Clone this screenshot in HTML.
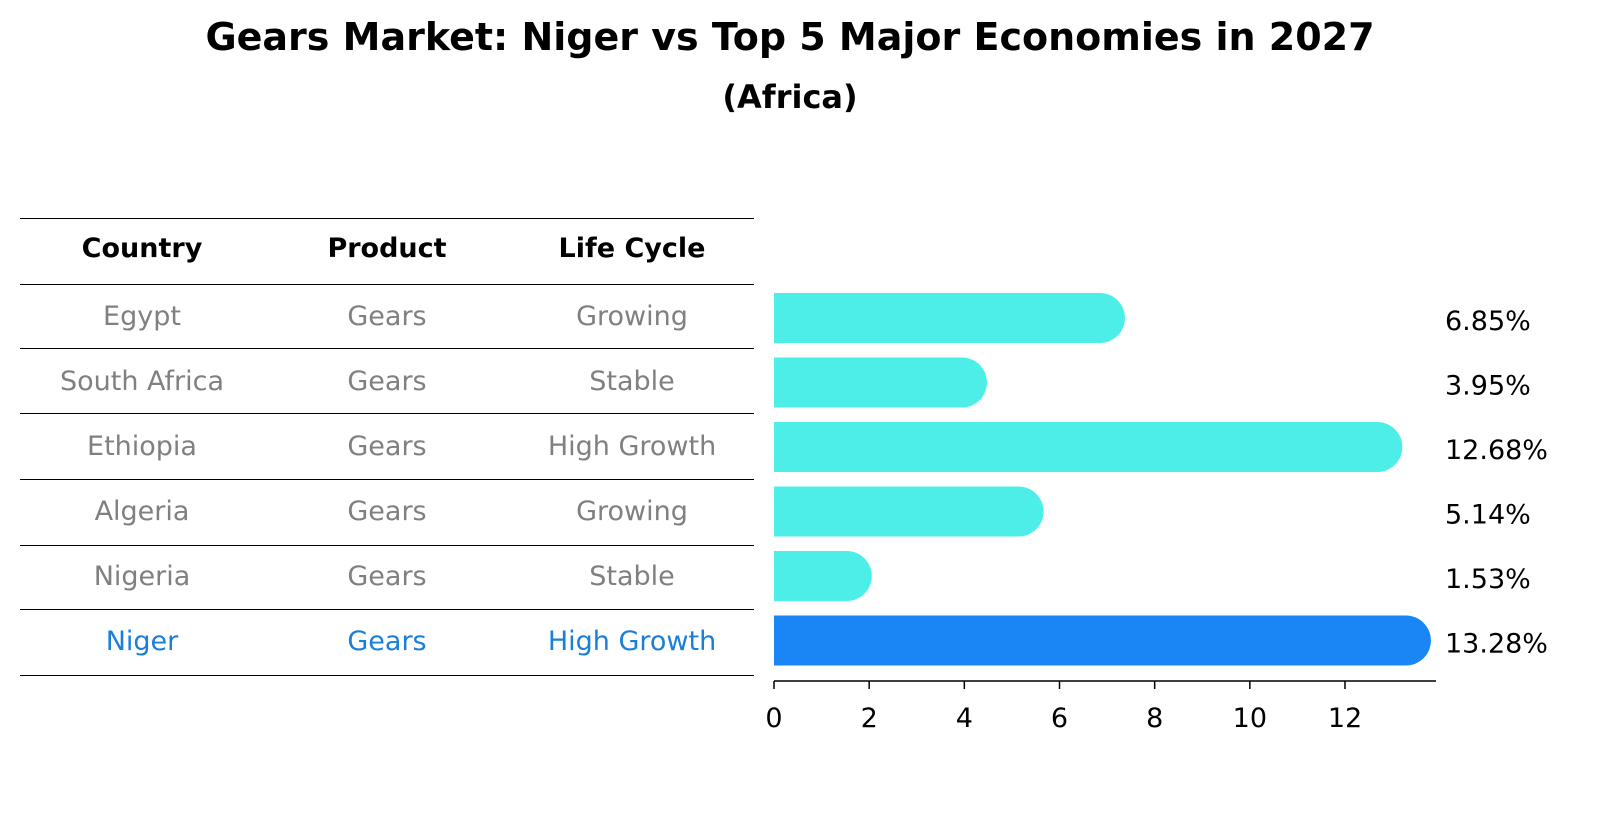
<!DOCTYPE html>
<html><head><meta charset="utf-8"><style>
body{margin:0;background:#fff;width:1604px;height:823px;overflow:hidden}
svg text{font-family:"DejaVu Sans","Liberation Sans",sans-serif}
</style></head><body>
<svg id="chart" width="1604" height="823" xmlns="http://www.w3.org/2000/svg">
<text x="790" y="50" text-anchor="middle" font-size="38" font-weight="bold">Gears Market: Niger vs Top 5 Major Economies in 2027</text>
<text x="790" y="108" text-anchor="middle" font-size="32" font-weight="bold">(Africa)</text>
<g id="table"></g>
<g id="bars"></g>
<g id="axis"></g>
</svg>
<script>
const countries=["Egypt","South Africa","Ethiopia","Algeria","Nigeria","Niger"];
const products=["Gears","Gears","Gears","Gears","Gears","Gears"];
const lifeCycles=["Growing","Stable","High Growth","Growing","Stable","High Growth"];
const values=[6.85,3.95,12.68,5.14,1.53,13.28];
const ticks=[0,2,4,6,8,10,12];
const NS="http://www.w3.org/2000/svg";
function mk(t,a,p){const e=document.createElementNS(NS,t);for(const k in a)e.setAttribute(k,a[k]);p.appendChild(e);return e;}
const x0=774,pxPer=(1345-774)/12;
const xs=v=>x0+v*pxPer;
const rowY=i=>318+i*64.5;
const tb=document.getElementById('table');
const colX=[142,387,632];
const FS=27;
[["Country",0],["Product",1],["Life Cycle",2]].forEach(([t,c])=>{
 const e=mk('text',{x:colX[c],y:257,'text-anchor':'middle','font-size':FS,'font-weight':'bold'},tb);
 
 
 e.textContent=t;});
const lineYs=[218,284,348,413,479,545,609,675];
lineYs.forEach(y=>{const l=mk('line',{x1:20,x2:754,y1:y+0.5,y2:y+0.5,stroke:'#000','stroke-width':1},tb);
 
 });
countries.forEach((c,i)=>{
 const col=i===countries.length-1?'#1a7fd9':'#808080';
 const y=325+i*65;
 [c,products[i],lifeCycles[i]].forEach((t,j)=>{
  const e=mk('text',{x:colX[j],y:y,'text-anchor':'middle','font-size':FS,fill:col},tb);
  
  
  e.textContent=t;});
});
const bg=document.getElementById('bars');
const h=50,r=25;
values.forEach((v,i)=>{
 const cy=rowY(i),xe=xs(v);
 const col=i===values.length-1?'#1a85f5':'#4deee8';
 const p=mk('path',{d:`M${x0},${cy-h/2} H${xe} A${r},${r} 0 0 1 ${xe},${cy+h/2} H${x0} Z`,fill:col},bg);
 
 
 const t=mk('text',{x:1445,y:cy+12,'font-size':FS},bg);
 
 
 t.textContent=v.toFixed(2)+'%';
});
const ax=document.getElementById('axis');
const al=mk('line',{x1:x0,x2:1436,y1:681,y2:681,stroke:'#000','stroke-width':1.5},ax);


ticks.forEach(t=>{
 const l=mk('line',{x1:xs(t),x2:xs(t),y1:681,y2:689,stroke:'#000','stroke-width':1.5},ax);
 
 
 const e=mk('text',{x:xs(t),y:727,'text-anchor':'middle','font-size':FS},ax);
 
 
 e.textContent=t;});
</script>
</body></html>
